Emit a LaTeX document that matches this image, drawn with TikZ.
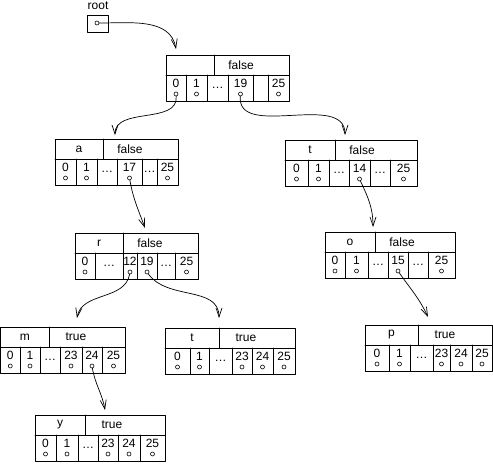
\documentclass[tikz,border=0pt]{standalone}
\usepackage{fontspec}
\setmainfont{Liberation Sans}
\usetikzlibrary{arrows.meta}

\tikzset{
  box/.style={line width=.8pt},
  ptr/.style={circle, draw, line width=.6pt, inner sep=0pt, minimum size=4pt},
  lbl/.style={inner sep=0pt, font=\fontsize{12}{14}\selectfont},
  link/.style={->, line width=.7pt},
}

% one trie node: name, left, top, right, divider, letter, flag,
% cells as left/right/label/has-pointer
\newcommand{\trienode}[8]{%
  \draw[box] (#2,#3) rectangle (#4,#3+46);
  \draw[box] (#2,#3+20) -- (#4,#3+20);
  \draw[box] (#5,#3) -- (#5,#3+20);
  \node[lbl] (#1-letter) at ({(#2+#5)/2},#3+10) {#6};
  \node[lbl] (#1-flag) at (#5+27,#3+10) {#7};
  \foreach \xa/\xb/\txt/\hasptr in {#8} {
    \draw[box] (\xa,#3+20) -- (\xa,#3+46);
    \ifnum\hasptr=1
      \node[lbl] at ({(\xa+\xb)/2},#3+28) {\txt};
      \node[ptr] (#1-\txt) at ({(\xa+\xb)/2},#3+39) {};
    \else
      \node[lbl] at ({(\xa+\xb)/2},#3+33) {\txt};
    \fi
  }
}

\begin{document}
\begin{tikzpicture}[x=1pt, y=-1pt, line cap=round, line join=round,
    >={Straight Barb[length=9pt, width=6pt]}]
  % Fix the page to the reference size
  \useasboundingbox (0,0) rectangle (493,464);

  % Root pointer
  \node[lbl] (root-label) at (98,6) {root};
  \draw[box] (87,15) rectangle (108,32);
  \node[ptr] (root-ptr) at (97,23) {};

  % Level 0
  \trienode{n}{166}{55}{289}{214}{}{false}
    {166/186/0/1, 186/207/1/1, 207/228/\ldots/0, 228/253/19/1, 253/268/{}/0, 268/289/25/1}

  % Level 1
  \trienode{na}{55}{139}{178}{103}{a}{false}
    {55/76/0/1, 76/97/1/1, 97/117/\ldots/0, 117/142/17/1, 142/157/\ldots/0, 157/178/25/1}
  \trienode{nt}{285}{140}{417}{335}{t}{false}
    {285/308/0/1, 308/329/1/1, 329/349/\ldots/0, 349/370/14/1, 370/390/\ldots/0, 390/417/25/1}

  % Level 2
  \trienode{nar}{75}{233}{198}{123}{r}{false}
    {75/95/0/1, 95/123/\ldots/0, 123/137/12/1, 137/157/19/1, 157/175/\ldots/0, 175/198/25/1}
  \trienode{nto}{325}{232}{455}{375}{o}{false}
    {325/345/0/1, 345/368/1/1, 368/388/\ldots/0, 388/408/15/1, 408/428/\ldots/0, 428/455/25/1}

  % Level 3
  \trienode{narm}{0.5}{327}{125}{49}{m}{true}
    {0.5/20/0/1, 20/40/1/1, 40/60/\ldots/0, 60/82/23/1, 82/102/24/1, 102/125/25/1}
  \trienode{nart}{165}{328}{295}{219}{t}{true}
    {165/190/0/1, 190/209/1/1, 209/232/\ldots/0, 232/252/23/1, 252/273/24/1, 273/295/25/1}
  \trienode{ntop}{365}{325}{492}{418}{p}{true}
    {365/389/0/1, 389/410/1/1, 410/433/\ldots/0, 433/450/23/1, 450/472/24/1, 472/492/25/1}

  % Level 4
  \trienode{narmy}{35}{415}{165}{85}{y}{true}
    {35/56/0/1, 56/78/1/1, 78/98/\ldots/0, 98/118/23/1, 118/140/24/1, 140/165/25/1}

  % Arrow tips above each child
  \coordinate (n-in) at (176,49);
  \coordinate (na-in) at (115,135);
  \coordinate (nt-in) at (345,135);
  \coordinate (nar-in) at (145,228);
  \coordinate (nto-in) at (373,227);
  \coordinate (narm-in) at (77,318);
  \coordinate (nart-in) at (219,318);
  \coordinate (ntop-in) at (428,317);
  \coordinate (narmy-in) at (105,410);

  % Links
  \draw[link] (root-ptr) to[out=0, in=100] (n-in);
  \draw[link] (n-0) to[out=-85, in=90] (na-in);
  \draw[link] (n-19) to[out=-95, in=90] (nt-in);
  \draw[link] (na-17) to[out=-80, in=110] (nar-in);
  \draw[link] (nt-14) to[out=-65, in=90] (nto-in);
  \draw[link] (nar-12) to[out=-100, in=80] (narm-in);
  \draw[link] (nar-19) to[out=-55, in=90] (nart-in);
  \draw[link] (nto-15) to[out=-55, in=115] (ntop-in);
  \draw[link] (narm-24) to[out=-80, in=100] (narmy-in);
\end{tikzpicture}
\end{document}
